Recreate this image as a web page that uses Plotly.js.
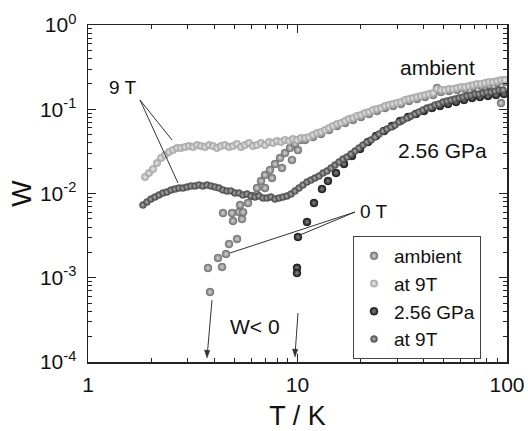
<!DOCTYPE html>
<html>
<head>
<meta charset="utf-8">
<script src="https://cdn.plot.ly/plotly-3.0.1.min.js"></script>
<style>html,body{margin:0;padding:0;background:#fff;}#chart{width:528px;height:431px;}</style>
</head>
<body>
<div id="chart"></div>
<script>
// ambient, 0 T
var ambT = [3.822, 3.740, 4.362, 4.174, 4.557, 4.710, 5.143, 4.921, 5.434, 4.410, 4.868, 5.258, 5.50, 5.32, 5.803,
  6.066, 6.407, 6.695, 6.996, 7.391, 7.809, 8.252, 8.716, 9.210, 9.729, 10.28,
  6.407, 6.996, 7.554, 8.433, 9.413, 10.05,
  10.86, 11.86, 12.95, 14.14, 15.44, 16.86, 18.40, 20.10, 21.94, 23.96, 26.16, 28.56, 31.19, 34.05, 37.18,
  40.60, 44.34, 46.33, 48.42, 52.87, 57.72, 63.03, 68.83, 75.15, 82.05, 89.60, 93.63, 97.84];
var ambW = [6.77e-4, 1.305e-3, 1.341e-3, 1.716e-3, 1.913e-3, 2.515e-3, 2.884e-3, 4.72e-3, 4.98e-3, 5.87e-3, 5.87e-3, 6.03e-3, 6.0e-3, 7.3e-3, 7.72e-3,
  9.34e-3, 0.01162, 0.01407, 0.01658, 0.0190, 0.02239, 0.02641, 0.03025, 0.03467, 0.0387, 0.04315,
  0.0096, 0.01162, 0.01528, 0.02008, 0.02496, 0.0328,
  0.04315, 0.04684, 0.05084, 0.05670, 0.06325, 0.0687, 0.07458, 0.0809, 0.08785, 0.09533, 0.1035, 0.1093, 0.1154, 0.1253, 0.1323,
  0.1398, 0.1476, 0.1788, 0.1602, 0.1647, 0.1693, 0.1739, 0.1837, 0.1888, 0.1940, 0.2049, 0.1186, 0.2106];

// ambient, 9 T
var amb9T = [1.872, 1.955, 2.043, 2.135, 2.231, 2.331, 2.436, 2.545, 2.659, 2.779, 2.904, 3.034, 3.171, 3.313, 3.462,
  3.618, 3.780, 3.950, 4.128, 4.313, 4.507, 4.710, 4.921, 5.143, 5.374, 5.615, 5.868, 6.132, 6.407, 6.695,
  6.996, 7.311, 7.639, 7.983, 8.341, 8.716, 9.108, 9.517, 9.945, 10.39, 10.86, 11.35, 11.86, 12.39, 12.95,
  13.53, 14.14, 14.77, 15.44, 16.13, 16.86, 17.61, 18.40, 19.23, 20.10, 21.00, 21.94, 22.93, 23.96, 25.03,
  26.16, 27.33, 28.56, 29.85, 31.19, 32.59, 34.05, 35.58, 37.18, 38.86, 40.60, 42.43, 44.34, 46.33, 48.42,
  50.59, 52.87, 55.24, 57.72, 60.32, 63.03, 65.86, 68.83, 71.92, 75.15, 78.52, 82.05, 85.74, 89.60, 93.63, 97.84];
var amb9W = [0.0157, 0.0175, 0.0195, 0.0230, 0.0264, 0.0286, 0.0311, 0.0328, 0.0347, 0.0347, 0.0356, 0.0366, 0.0356, 0.0376, 0.0366,
  0.0356, 0.0376, 0.0366, 0.0347, 0.0366, 0.0376, 0.0356, 0.0366, 0.0387, 0.0356, 0.0376, 0.0398, 0.0366, 0.0376, 0.0398,
  0.0376, 0.0409, 0.0398, 0.0420, 0.0409, 0.0432, 0.0420, 0.0444, 0.0432, 0.0456, 0.0456, 0.0468, 0.0495, 0.0523, 0.0537,
  0.0567, 0.0599, 0.0633, 0.0668, 0.0687, 0.0725, 0.0766, 0.0787, 0.0832, 0.0855, 0.0903, 0.0927, 0.0980, 0.1007, 0.1035,
  0.1093, 0.1123, 0.1154, 0.1186, 0.1219, 0.1288, 0.1323, 0.1360, 0.1398, 0.1437, 0.1476, 0.1517, 0.1559, 0.1739, 0.1693,
  0.1693, 0.1739, 0.1739, 0.1788, 0.1837, 0.1837, 0.1888, 0.1940, 0.1994, 0.1994, 0.2049, 0.2106, 0.2106, 0.2164, 0.2225, 0.2225];

// 2.56 GPa, 0 T
var gpaT = [9.945, 9.945, 10.05, 11.10, 11.99, 13.09, 13.98, 15.27, 16.67, 18.20, 19.88, 21.70, 23.70, 25.88, 28.25,
  30.85, 33.69, 36.78, 40.16, 43.85, 47.87, 52.27, 57.07, 62.32, 68.06, 74.31, 81.15, 88.61, 96.76];
var gpaW = [1.31e-3, 1.138e-3, 3.046e-3, 4.59e-3, 7.72e-3, 0.01131, 0.01407, 0.01751, 0.02239, 0.02787, 0.03373, 0.04087, 0.04815, 0.05516, 0.06325,
  0.0725, 0.0809, 0.08785, 0.09533, 0.1035, 0.1093, 0.1154, 0.1219, 0.1288, 0.1360, 0.1398, 0.1437, 0.1476, 0.1517];

// 2.56 GPa, 9 T
var gpa9T = [1.830, 1.912, 1.998, 2.088, 2.182, 2.280, 2.383, 2.490, 2.602, 2.719, 2.841, 2.969, 3.102, 3.241, 3.387,
  3.539, 3.698, 3.865, 4.039, 4.220, 4.410, 4.608, 4.815, 5.032, 5.258, 5.494, 5.741, 5.998, 6.268, 6.550,
  6.844, 7.152, 7.473, 7.809, 8.160, 8.527, 8.910, 9.311, 9.729, 10.17, 10.62, 11.10, 11.60, 12.12, 12.67,
  13.24, 13.83, 14.45, 15.10, 15.78, 16.49, 17.23, 18.01, 18.82, 19.66, 20.54, 21.47, 22.43, 23.44, 24.49,
  25.59, 26.75, 27.95, 29.21, 30.52, 31.89, 33.32, 34.82, 36.38, 38.02, 39.72, 41.51, 43.38, 45.33, 47.37,
  49.50, 51.72, 54.05, 56.48, 59.02, 61.66, 64.44, 67.33, 70.36, 73.51, 76.81, 80.27, 83.87, 87.64, 91.58, 95.70];
var gpa9W = [0.00730, 0.00793, 0.00860, 0.00909, 0.00960, 0.01014, 0.01042, 0.01100, 0.01131, 0.01162, 0.01162, 0.01194, 0.01227, 0.01227, 0.01261,
  0.01227, 0.01261, 0.01227, 0.01194, 0.01162, 0.01100, 0.01071, 0.01071, 0.01014, 0.01014, 0.00960, 0.00986, 0.00934, 0.00909, 0.00934,
  0.00884, 0.00884, 0.00909, 0.00860, 0.00884, 0.00909, 0.00934, 0.00986, 0.01071, 0.01162, 0.01261, 0.01369, 0.01446, 0.01528, 0.01613,
  0.01751, 0.01849, 0.02008, 0.02180, 0.02365, 0.02568, 0.02711, 0.02943, 0.03195, 0.03467, 0.03764, 0.04087, 0.04315, 0.04684, 0.05084,
  0.05516, 0.05827, 0.06155, 0.06500, 0.07058, 0.07458, 0.07872, 0.08318, 0.08785, 0.09278, 0.09797, 0.1035, 0.1063, 0.1123, 0.1154,
  0.1219, 0.1253, 0.1288, 0.1323, 0.1360, 0.1398, 0.1437, 0.1476, 0.1517, 0.1517, 0.1559, 0.1602, 0.1602, 0.1647, 0.1693, 0.1693];

var seriesNames = ['ambient', 'at 9T', '2.56 GPa', 'at 9T'];
var xTickVals = [1, 10, 100];
var xTickText = ['1', '10', '100'];
var yTickVals = [1e-4, 1e-3, 1e-2, 1e-1, 1];
var yTickText = ['10<sup>-4</sup>', '10<sup>-3</sup>', '10<sup>-2</sup>', '10<sup>-1</sup>', '10<sup>0</sup>'];

var FONT = 'Liberation Sans, Arial, Helvetica, sans-serif';

function mk(x, y, name, col, hi, size) {
  return {
    x: x, y: y, name: name, type: 'scatter', mode: 'markers',
    marker: {size: size, color: col, gradient: {type: 'radial', color: hi},
             line: {width: 0.4, color: col}},
    hoverinfo: 'x+y'
  };
}
var traces = [
  mk(ambT, ambW, seriesNames[0], '#6e6e6e', '#d8d8d8', 8),
  mk(amb9T, amb9W, seriesNames[1], '#a2a2a2', '#ececec', 7.5),
  mk(gpaT, gpaW, seriesNames[2], '#111111', '#8a8a8a', 8),
  mk(gpa9T, gpa9W, seriesNames[3], '#474747', '#b4b4b4', 7)
];

var minorX = [];
[1, 10].forEach(function (d) { for (var k = 2; k <= 9; k++) minorX.push(k * d); });
var minorY = [];
[1e-4, 1e-3, 1e-2, 1e-1].forEach(function (d) { for (var k = 2; k <= 9; k++) minorY.push(k * d); });

function px(p) { return (p - 88) / 419; }
function py(p) { return (362 - p) / 337; }

var lineStyle = {color: '#333', width: 1};
var shapes = [
  {type: 'line', xref: 'paper', yref: 'paper', x0: px(140), y0: py(100), x1: px(172), y1: py(140), line: lineStyle},
  {type: 'line', xref: 'paper', yref: 'paper', x0: px(140), y0: py(100), x1: px(178), y1: py(183), line: lineStyle},
  {type: 'line', xref: 'paper', yref: 'paper', x0: px(355), y0: py(212), x1: px(230), y1: py(253), line: lineStyle},
  {type: 'line', xref: 'paper', yref: 'paper', x0: px(355), y0: py(212), x1: px(300), y1: py(235), line: lineStyle},
  // arrow shafts
  {type: 'line', xref: 'paper', yref: 'paper', x0: px(212), y0: py(300), x1: px(207.5), y1: py(352), line: lineStyle},
  {type: 'line', xref: 'paper', yref: 'paper', x0: px(298), y0: py(313), x1: px(295.3), y1: py(351), line: lineStyle},
  // arrow heads
  {type: 'path', xref: 'paper', yref: 'paper', fillcolor: '#333', line: {color: '#333', width: 0.5},
   path: 'M ' + px(207) + ' ' + py(358) + ' L ' + px(204.5) + ' ' + py(350) + ' L ' + px(209.8) + ' ' + py(350.5) + ' Z'},
  {type: 'path', xref: 'paper', yref: 'paper', fillcolor: '#333', line: {color: '#333', width: 0.5},
   path: 'M ' + px(295) + ' ' + py(357) + ' L ' + px(292.5) + ' ' + py(349) + ' L ' + px(297.8) + ' ' + py(349.3) + ' Z'}
];

function txt(t, x, y, size) {
  return {text: t, xref: 'paper', yref: 'paper', x: px(x), y: py(y), xanchor: 'center', yanchor: 'middle',
          showarrow: false, font: {family: FONT, size: size, color: '#111'}};
}
var annotations = [
  txt('9 T', 123, 87, 19),
  txt('ambient', 437, 68, 21),
  txt('2.56 GPa', 442, 150, 21),
  txt('0 T', 374, 212, 19),
  txt('W&lt; 0', 255, 326, 21)
];

var axisCommon = {
  type: 'log', showline: true, linecolor: '#222', linewidth: 1.5, mirror: 'ticks',
  ticks: 'inside', ticklen: 8, tickwidth: 1.2, tickcolor: '#222', showgrid: false, zeroline: false,
  tickfont: {family: FONT, size: 21, color: '#111'}, tickmode: 'array'
};

var layout = {
  width: 528, height: 431,
  margin: {l: 88, r: 21, t: 25, b: 69},
  paper_bgcolor: '#fff', plot_bgcolor: '#fff',
  font: {family: FONT, color: '#111'},
  xaxis: Object.assign({}, axisCommon, {
    range: [0, 2], tickvals: xTickVals, ticktext: xTickText, ticklabelstandoff: 3,
    minor: {tickmode: 'array', tickvals: minorX, ticks: 'inside', ticklen: 4, tickwidth: 1, tickcolor: '#222'},
    title: {text: 'T / K', font: {family: FONT, size: 27, color: '#111'}, standoff: 19}
  }),
  yaxis: Object.assign({}, axisCommon, {
    range: [-4, 0], tickvals: yTickVals, ticktext: yTickText, ticklabelstandoff: 6,
    minor: {tickmode: 'array', tickvals: minorY, ticks: 'inside', ticklen: 4, tickwidth: 1, tickcolor: '#222'},
    title: {text: 'W', font: {family: FONT, size: 28, color: '#111'}, standoff: 0}
  }),
  legend: {
    x: px(353), y: py(236), xanchor: 'left', yanchor: 'top',
    bgcolor: 'rgba(255,255,255,0)', bordercolor: '#444', borderwidth: 1,
    font: {family: FONT, size: 19, color: '#111'}, tracegroupgap: 0, itemwidth: 30
  },
  shapes: shapes,
  annotations: annotations,
  showlegend: true
};

Plotly.newPlot('chart', traces, layout, {displayModeBar: false, staticPlot: true});
</script>
</body>
</html>
